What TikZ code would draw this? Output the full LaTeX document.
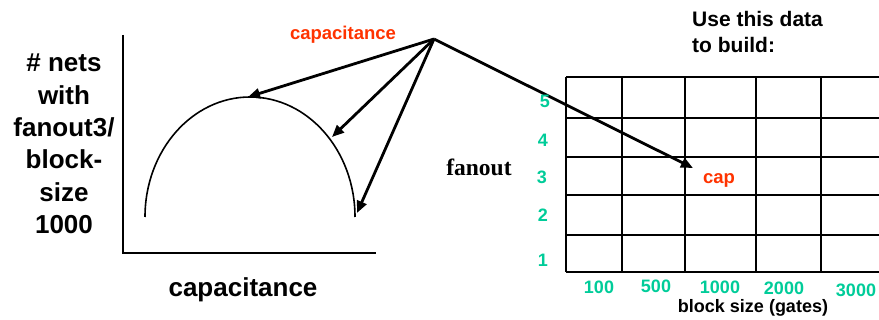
\documentclass[tikz,border=0pt]{standalone}
\usepackage{fontspec}
\setmainfont{Liberation Sans}
\newfontfamily\serifb{Liberation Serif}
\usetikzlibrary{arrows.meta}
\definecolor{capred}{HTML}{FF3300}
\definecolor{numgreen}{HTML}{00CC99}
\tikzset{
  lbl/.style={inner sep=0pt, font=\bfseries},
  gnum/.style={inner sep=0pt, text=numgreen, font=\bfseries\fontsize{18}{18}\selectfont},
  ptr/.style={line width=2.8pt, -{Triangle[length=12pt,width=10pt]}},
  axis/.style={line width=2.8pt},
  gridline/.style={line width=1.1pt}
}
\begin{document}
\begin{tikzpicture}[x=1pt,y=-1pt]
\useasboundingbox (0,0) rectangle (879,320);
% axes
\coordinate (ytop) at (123,35);
\coordinate (orig) at (123,253);
\coordinate (xend) at (376,253);
\draw[axis] (ytop) -- (orig) -- (xend);
% curve
\coordinate (cl) at (145,217);
\draw[line width=1.6pt] (cl) arc[start angle=180, end angle=360, x radius=105, y radius=120];
% left labels
\node[lbl, align=center, font=\bfseries\fontsize{26}{32.4}\selectfont] (ylab) at (64,144) {\# nets\\with\\fanout3/\\block-\\size\\1000};
\node[lbl, font=\bfseries\fontsize{26}{26}\selectfont] (xlab) at (243,290) {capacitance};
\node[lbl, text=capred, font=\bfseries\fontsize{18.5}{18.5}\selectfont] (caplab) at (343,35) {capacitance};
% arrows
\coordinate (src) at (434,39);
\coordinate (t1) at (248,97);
\coordinate (t2) at (332,137);
\coordinate (t3) at (357,213);
\coordinate (t4) at (693,168);
\draw[ptr] (src) -- (t1);
\draw[ptr] (src) -- (t2);
\draw[ptr] (src) -- (t3);
% grid
\foreach \y in {77,118,157,195,235}{
  \draw[gridline] (566,\y) -- (879,\y);
}
\draw[line width=1.6pt] (566,272) -- (879,272);
\foreach \x in {566,622,685,756,821}{
  \draw[gridline] (\x,77) -- (\x,272);
}
\draw[ptr] (src) -- (t4);
% labels right
\node[lbl, align=left, anchor=west, font=\bfseries\fontsize{21}{26}\selectfont] (use) at (692,32) {Use this data\\to build:};
\node[inner sep=0pt, font=\serifb\bfseries\fontsize{23.5}{23.5}\selectfont] (fan) at (479,167) {fanout};
\node[gnum] (f5) at (545,101) {5};
\node[gnum] (f4) at (543,140) {4};
\node[gnum] (f3) at (542,177) {3};
\node[gnum] (f2) at (543,215) {2};
\node[gnum] (f1) at (543,260) {1};
\node[gnum] (b1) at (599,287) {100};
\node[gnum] (b2) at (656,286) {500};
\node[gnum] (b3) at (720,287) {1000};
\node[gnum] (b4) at (784,288) {2000};
\node[gnum] (b5) at (856,290) {3000};
\node[lbl, font=\bfseries\fontsize{18}{18}\selectfont] (bs) at (753,308) {block size (gates)};
\node[lbl, text=capred, font=\bfseries\fontsize{18.5}{18.5}\selectfont] (cap) at (719,180) {cap};
\end{tikzpicture}
\end{document}
